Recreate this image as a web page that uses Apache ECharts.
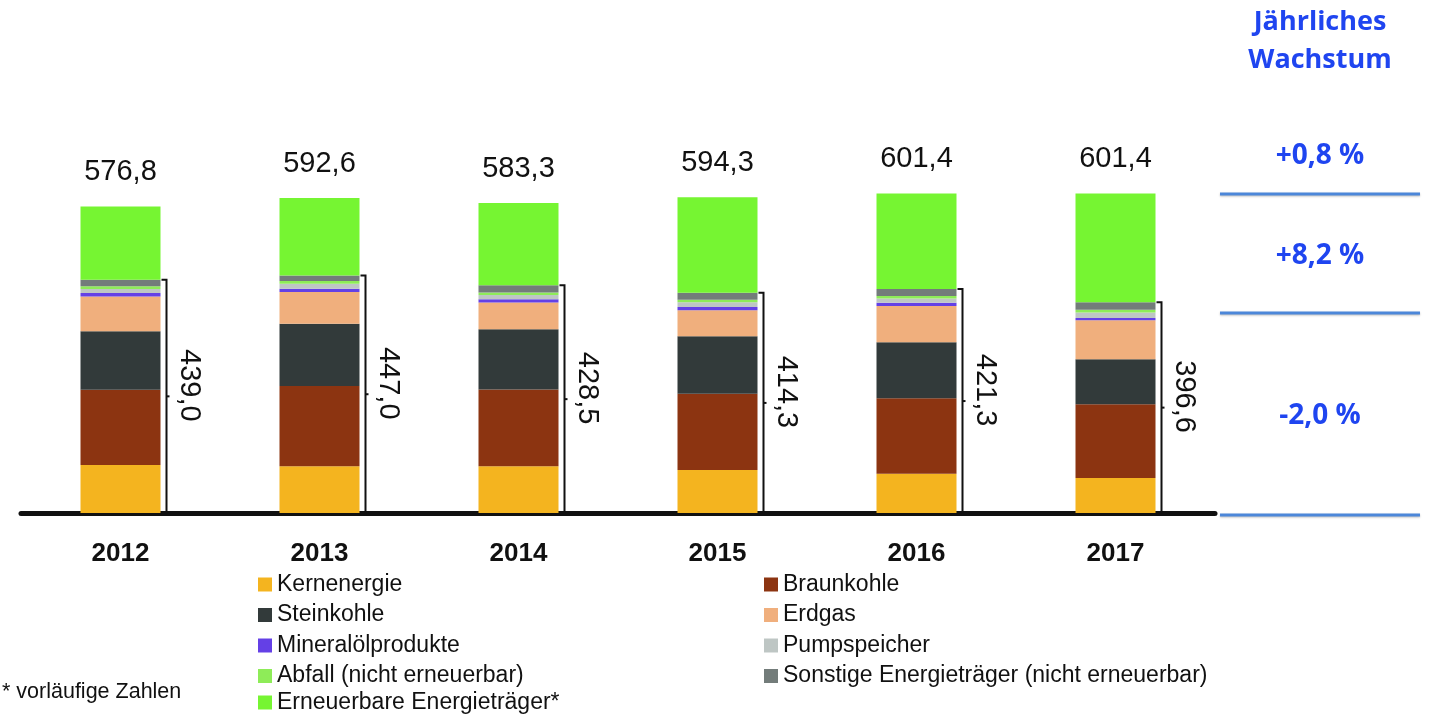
<!DOCTYPE html>
<html>
<head>
<meta charset="utf-8">
<script src="https://cdn.jsdelivr.net/npm/echarts@6/dist/echarts.min.js"></script>
<style>
html,body{margin:0;padding:0;background:#fff;}
#chart{width:1429px;height:717px;}
</style>
</head>
<body>
<div id="chart"></div>
<script>
// ---- data (TWh) ----
const years = ['2012', '2013', '2014', '2015', '2016', '2017'];
const kernenergie   = [90.5, 88.0, 88.0, 81.0, 74.0, 66.0];
const braunkohle    = [141.5, 151.0, 144.5, 143.5, 142.0, 138.5];
const steinkohle    = [110.0, 117.0, 113.5, 108.0, 105.5, 85.0];
const erdgas        = [65.5, 60.0, 50.0, 49.0, 68.0, 73.0];
const mineraloel    = [6.5, 6.0, 6.0, 6.0, 6.0, 4.5];
const pumpspeicher  = [7.5, 9.5, 8.0, 9.0, 8.3, 10.5];
const abfall        = [5.0, 5.0, 5.0, 5.0, 4.5, 5.0];
const sonstige      = [12.5, 10.5, 13.5, 12.8, 13.0, 14.1];
const erneuerbare   = [137.8, 145.6, 154.8, 180.0, 180.1, 204.8];
const totals        = ['576,8', '592,6', '583,3', '594,3', '601,4', '601,4'];
const fossilTotals  = [439.0, 447.0, 428.5, 414.3, 421.3, 396.6];
const fossilLabels  = ['439,0', '447,0', '428,5', '414,3', '421,3', '396,6'];
const growthLabels  = ['+0,8 %', '+8,2 %', '-2,0 %'];

const BAR_W = 80;
const FONT = '"Liberation Sans", Arial, Helvetica, sans-serif';

const seriesDefs = [
  ['Kernenergie', kernenergie, '#F4B41F'],
  ['Braunkohle', braunkohle, '#8C3411'],
  ['Steinkohle', steinkohle, '#323A3A'],
  ['Erdgas', erdgas, '#F0AF7D'],
  ['Mineralölprodukte', mineraloel, '#6440E6'],
  ['Pumpspeicher', pumpspeicher, '#BEC6C4'],
  ['Abfall (nicht erneuerbar)', abfall, '#8EEC58'],
  ['Sonstige Energieträger (nicht erneuerbar)', sonstige, '#737C7A'],
  ['Erneuerbare Energieträger*', erneuerbare, '#76F532']
];

const series = seriesDefs.map(function (d, idx) {
  const s = {
    name: d[0],
    type: 'bar',
    stack: 'total',
    data: d[1],
    barWidth: BAR_W,
    itemStyle: { color: d[2] },
    emphasis: { disabled: true }
  };
  if (idx === seriesDefs.length - 1) {
    s.label = {
      show: true,
      position: 'top',
      distance: 20,
      fontFamily: FONT,
      fontSize: 29,
      color: '#111',
      formatter: function (p) { return totals[p.dataIndex]; }
    };
  }
  return s;
});

// bracket + rotated fossil total
series.push({
  name: 'bracket',
  type: 'custom',
  silent: true,
  z: 5,
  data: fossilTotals.map(function (v, i) { return [i, v]; }),
  renderItem: function (params, api) {
    const i = api.value(0);
    const v = api.value(1);
    const base = api.coord([i, 0]);
    const top = api.coord([i, v]);
    const xr = base[0] + BAR_W / 2;
    const xv = xr + 6;
    const yb = base[1];
    const yt = top[1];
    const mid = (yb + yt) / 2;
    return {
      type: 'group',
      children: [
        {
          type: 'polyline',
          shape: { points: [[xr + 1, yt], [xv, yt], [xv, yb], [xr + 1, yb]] },
          style: { stroke: '#111', lineWidth: 2, fill: null }
        },
        {
          type: 'line',
          shape: { x1: xv, y1: mid, x2: xv + 3, y2: mid },
          style: { stroke: '#111', lineWidth: 2 }
        },
        {
          type: 'text',
          x: xr + 28,
          y: mid - 11,
          rotation: -Math.PI / 2,
          style: {
            text: fossilLabels[params.dataIndex],
            fontFamily: FONT,
            fontSize: 29,
            fill: '#111',
            align: 'center',
            verticalAlign: 'middle'
          }
        }
      ]
    };
  }
});

const legendText = { fontFamily: FONT, fontSize: 23, color: '#111', lineHeight: 22 };

function makeLegend(names, left, top) {
  return {
    data: names,
    orient: 'vertical',
    left: left,
    top: top,
    padding: 0,
    icon: 'rect',
    itemWidth: 14,
    itemHeight: 14,
    itemGap: 7.5,
    textStyle: legendText,
    selectedMode: false
  };
}

const blue = '#1F45F0';
const lineBlue = '#4C87D9';
const PF = '"Open Sans", sans-serif';

const option = {
  animation: false,
  backgroundColor: '#fff',
  grid: { left: 21, right: 214, top: 141, bottom: 204 },
  xAxis: {
    type: 'category',
    data: years,
    offset: 3,
    axisLine: { lineStyle: { color: '#111', width: 5 } },
    axisTick: { show: false },
    axisLabel: { fontFamily: FONT, fontWeight: 'bold', fontSize: 26, color: '#111', margin: 25 }
  },
  yAxis: {
    type: 'value',
    min: 0,
    max: 700,
    show: false,
    splitLine: { show: false }
  },
  legend: [
    makeLegend(['Kernenergie', 'Steinkohle', 'Mineralölprodukte', 'Abfall (nicht erneuerbar)'], 258, 573),
    makeLegend(['Erneuerbare Energieträger*'], 258, 691),
    makeLegend(['Braunkohle', 'Erdgas', 'Pumpspeicher', 'Sonstige Energieträger (nicht erneuerbar)'], 764, 573)
  ],
  graphic: [
    { type: 'text', left: 2, top: 681, style: { text: '* vorläufige Zahlen', fontFamily: FONT, fontSize: 21.5, fill: '#111' } },
    { type: 'text', x: 1320, y: 22, style: { text: 'Jährliches', fontFamily: PF, fontWeight: 'bold', fontSize: 27, fill: blue, align: 'center', verticalAlign: 'middle' } },
    { type: 'text', x: 1320, y: 60, style: { text: 'Wachstum', fontFamily: PF, fontWeight: 'bold', fontSize: 27, fill: blue, align: 'center', verticalAlign: 'middle' } },
    { type: 'text', x: 1320, y: 156, style: { text: growthLabels[0], fontFamily: PF, fontWeight: 'bold', fontSize: 28, fill: blue, align: 'center', verticalAlign: 'middle' } },
    { type: 'text', x: 1320, y: 256, style: { text: growthLabels[1], fontFamily: PF, fontWeight: 'bold', fontSize: 28, fill: blue, align: 'center', verticalAlign: 'middle' } },
    { type: 'text', x: 1320, y: 416, style: { text: growthLabels[2], fontFamily: PF, fontWeight: 'bold', fontSize: 28, fill: blue, align: 'center', verticalAlign: 'middle' } },
    { type: 'line', shape: { x1: 1220, y1: 194, x2: 1420, y2: 194 }, style: { stroke: lineBlue, lineWidth: 3, shadowBlur: 2, shadowColor: 'rgba(0,0,0,0.25)', shadowOffsetY: 1 } },
    { type: 'line', shape: { x1: 1220, y1: 313, x2: 1420, y2: 313 }, style: { stroke: lineBlue, lineWidth: 3, shadowBlur: 2, shadowColor: 'rgba(0,0,0,0.25)', shadowOffsetY: 1 } },
    { type: 'line', shape: { x1: 1220, y1: 515, x2: 1420, y2: 515 }, style: { stroke: lineBlue, lineWidth: 3, shadowBlur: 2, shadowColor: 'rgba(0,0,0,0.25)', shadowOffsetY: 1 } }
  ],
  series: series
};

const chart = echarts.init(document.getElementById('chart'), null, { renderer: 'canvas' });
chart.setOption(option);
</script>
</body>
</html>
